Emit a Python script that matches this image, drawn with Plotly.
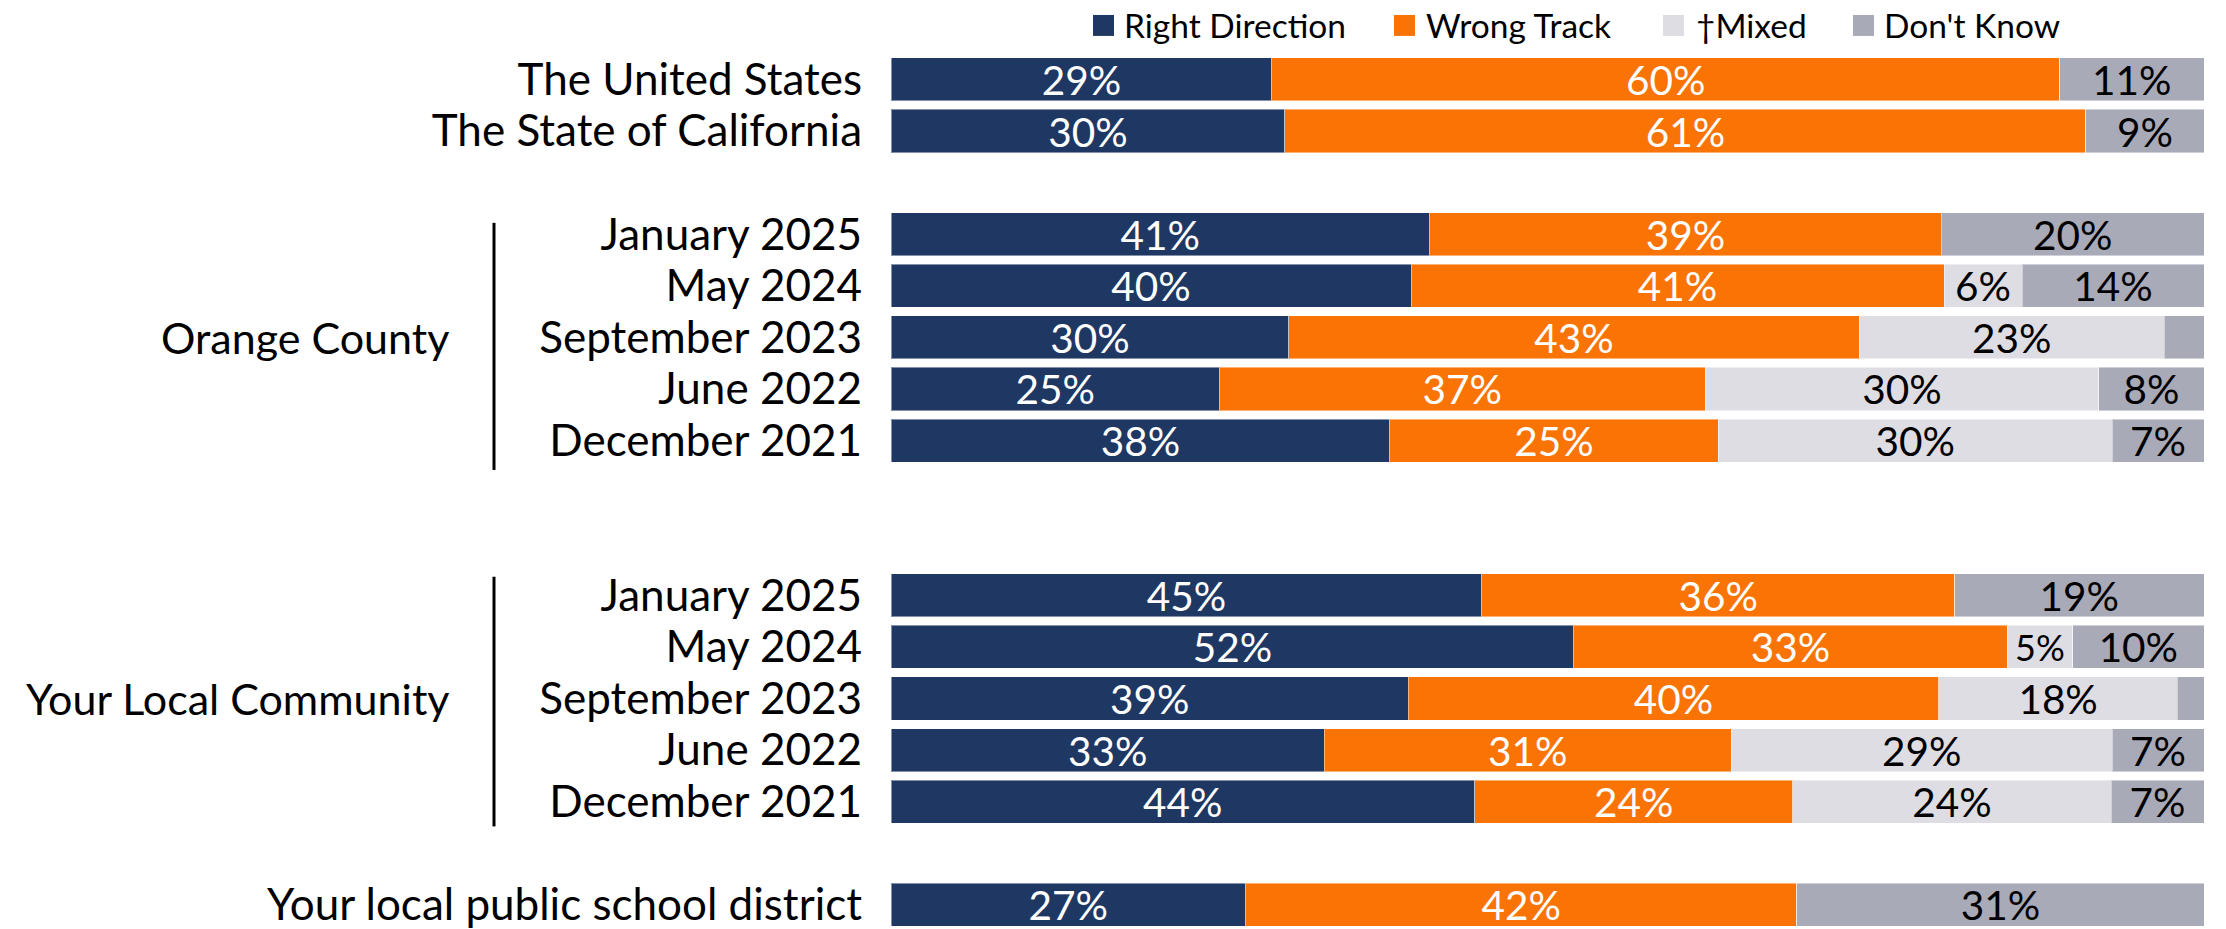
import plotly.graph_objects as go

# ---- data ----
row_labels = ["The United States", "The State of California",
              "January 2025", "May 2024", "September 2023", "June 2022", "December 2021",
              "January 2025", "May 2024", "September 2023", "June 2022", "December 2021",
              "Your local public school district"]
row_slots = [0, 1, 3, 4, 5, 6, 7, 10, 11, 12, 13, 14, 16]

right_direction = [29, 30, 41, 40, 30, 25, 38, 45, 52, 39, 33, 44, 27]
wrong_track     = [60, 61, 39, 41, 43, 37, 25, 36, 33, 40, 31, 24, 42]
mixed           = [0, 0, 0, 6, 23, 30, 30, 0, 5, 18, 29, 24, 0]
dont_know       = [11, 9, 20, 14, 3, 8, 7, 19, 10, 2, 7, 7, 31]

series_names = ["Right Direction", "Wrong Track", "\u2020Mixed", "Don't Know"]
series_values = [right_direction, wrong_track, mixed, dont_know]
series_colors = ["#1F3763", "#FA7305", "#DEDDE3", "#A9AAB8"]
text_colors = ["white", "white", "black", "black"]

group_labels = ["Orange County", "Your Local Community"]
group_centers = [5, 12]
group_spans = [(2.78, 7.57), (9.64, 14.48)]

FONT = "Lato, 'Noto Sans', sans-serif"

W, H = 2226, 929
L, R = 891, 22
plot_w = W - L - R

# normalize each row to 100 for bar widths
totals = [sum(s[i] for s in series_values) for i in range(len(row_labels))]

fig = go.Figure()
for name, vals, col, tcol in zip(series_names, series_values, series_colors, text_colors):
    widths = [v / t * 100 for v, t in zip(vals, totals)]
    texts = [f"{v}%" if v >= 4 else "" for v in vals]
    sizes = [36 if w < 5.5 else 40.5 for w in widths]
    fig.add_trace(go.Bar(
        y=row_slots, x=widths, orientation="h", name=name,
        marker=dict(color=col, line=dict(color="rgba(255,255,255,0.45)", width=1)),
        text=texts, textposition="inside", insidetextanchor="middle",
        constraintext="none", cliponaxis=False,
        textfont=dict(family=FONT, size=sizes, color=tcol),
        textangle=0, showlegend=False,
        hoverinfo="skip",
    ))

# manual legend (squares + text), positioned in pixels
legend_sq_x = [1093, 1394, 1663, 1853]
legend_txt_x = [1122, 1424, 1694, 1882]
sq = 21
for name, col, sx, tx in zip(series_names, series_colors, legend_sq_x, legend_txt_x):
    fig.add_shape(type="rect", xref="paper", yref="paper",
                  x0=(sx - L) / plot_w, x1=(sx + sq - L) / plot_w,
                  y0=1 - 36 / H, y1=1 - 15 / H,
                  fillcolor=col, line=dict(width=0))
    fig.add_annotation(text=name, xref="paper", yref="paper",
                       x=(tx - L) / plot_w, xanchor="left",
                       y=1 - 25 / H, yanchor="middle", showarrow=False,
                       font=dict(family=FONT, size=33.5, color="black"))

fig.update_layout(
    width=W, height=H,
    barmode="stack", bargap=0.165,
    margin=dict(l=L, r=R, t=0, b=0, pad=0),
    paper_bgcolor="white", plot_bgcolor="white",
    font=dict(family=FONT, color="black"),
    showlegend=False,
    xaxis=dict(range=[0, 100], visible=False, fixedrange=True),
    yaxis=dict(range=[16.43, -1.54], tickmode="array", tickvals=row_slots,
               ticktext=row_labels, showgrid=False, zeroline=False,
               showline=False, ticks="", ticklabelstandoff=28,
               ticklabeloverflow="allow",
               tickfont=dict(family=FONT, size=44, color="black")),
)

for lab, c, (y0, y1) in zip(group_labels, group_centers, group_spans):
    fig.add_annotation(text=lab, xref="paper", x=(451 - L) / plot_w, xanchor="right",
                       yref="y", y=c, yanchor="middle", showarrow=False,
                       font=dict(family=FONT, size=43, color="black"))
    fig.add_shape(type="line", xref="paper", x0=(494 - L) / plot_w, x1=(494 - L) / plot_w,
                  yref="y", y0=y0, y1=y1, line=dict(color="black", width=3))

fig.write_html("out.html", config={"displayModeBar": False},
               post_script="document.body.style.margin='0';")
